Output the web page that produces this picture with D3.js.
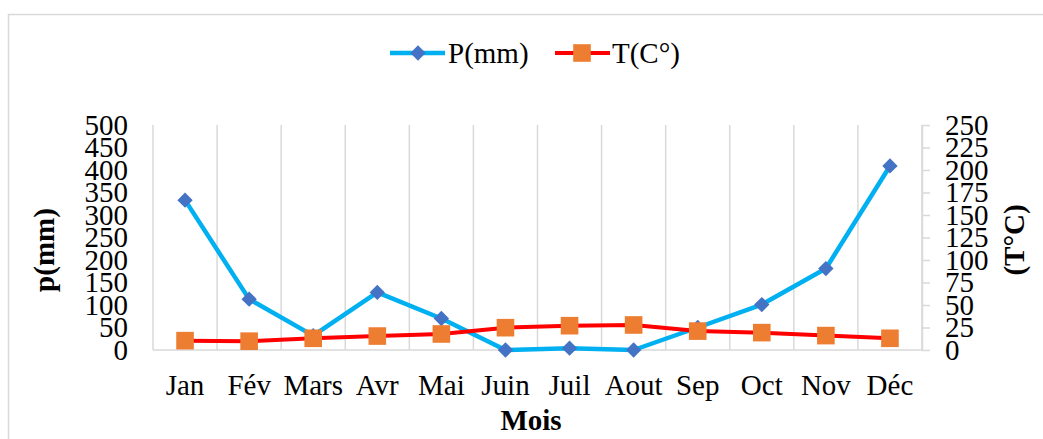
<!DOCTYPE html>
<html>
<head>
<meta charset="utf-8">
<script src="https://cdn.jsdelivr.net/npm/d3@7"></script>
<style>
  html, body { margin: 0; padding: 0; background: #fff; }
  svg { display: block; font-family: "Liberation Serif", "Times New Roman", serif; }
</style>
</head>
<body>
<svg id="chart" width="1043" height="439"></svg>
<script>
// Monthly precipitation (mm) and temperature (°C)
const months = ["Jan", "Fév", "Mars", "Avr", "Mai", "Juin", "Juil", "Aout", "Sep", "Oct", "Nov", "Déc"];
const precip = [333, 113, 32, 128, 70, 0, 4, 0, 50, 101, 181, 409];
const temp = [10.4, 9.8, 13, 15.5, 17.8, 24.8, 27, 27.8, 21, 19.3, 16, 13];
const leftTicks = [0, 50, 100, 150, 200, 250, 300, 350, 400, 450, 500];
const rightTicks = [0, 25, 50, 75, 100, 125, 150, 175, 200, 225, 250];

const svg = d3.select("#chart");
const W = 1043, H = 439;
const plot = { left: 153, right: 922, top: 125, bottom: 350 };
const fs = 29;

const gridColor = "#d9d9d9";
const textColor = "#000";
const pLine = "#00b0f0", pMark = "#4472c4";
const tLine = "#ff0000", tMark = "#ed7d31";

// outer chart frame
svg.append("rect")
  .attr("x", 8.5).attr("y", 14.5)
  .attr("width", W + 20).attr("height", H + 20)
  .attr("fill", "#fff").attr("stroke", gridColor).attr("stroke-width", 1.5);

const x = d3.scaleBand().domain(months).range([plot.left, plot.right]).paddingInner(0).paddingOuter(0);
const yL = d3.scaleLinear().domain([0, 500]).range([plot.bottom, plot.top]);
const yR = d3.scaleLinear().domain([0, 250]).range([plot.bottom, plot.top]);

// vertical category gridlines
const bounds = months.map(m => x(m)).concat([plot.right]);
svg.append("g").selectAll("line").data(bounds).join("line")
  .attr("x1", d => d).attr("x2", d => d)
  .attr("y1", plot.top).attr("y2", plot.bottom)
  .attr("stroke", gridColor).attr("stroke-width", 1.5);

// bottom axis line
svg.append("line")
  .attr("x1", plot.left).attr("x2", plot.right)
  .attr("y1", plot.bottom).attr("y2", plot.bottom)
  .attr("stroke", gridColor).attr("stroke-width", 1.5);

// right axis with outward ticks
const rAxis = svg.append("g").attr("transform", `translate(${plot.right},0)`)
  .call(d3.axisRight(yR).tickValues(rightTicks).tickSize(8).tickPadding(15).tickSizeOuter(0));
rAxis.select(".domain").attr("stroke", gridColor).attr("stroke-width", 1.5);
rAxis.selectAll(".tick line").attr("stroke", gridColor).attr("stroke-width", 1.5);
rAxis.selectAll(".tick text")
  .attr("font-size", fs).attr("fill", textColor)
  .attr("font-family", "Liberation Serif, serif");

// left axis labels (no tick marks)
const lAxis = svg.append("g").attr("transform", `translate(${plot.left},0)`)
  .call(d3.axisLeft(yL).tickValues(leftTicks).tickSize(0).tickPadding(25));
lAxis.select(".domain").remove();
lAxis.selectAll(".tick text")
  .attr("font-size", fs).attr("fill", textColor)
  .attr("font-family", "Liberation Serif, serif");

// month labels
const bAxis = svg.append("g").attr("transform", `translate(0,${plot.bottom})`)
  .call(d3.axisBottom(x).tickSize(0).tickPadding(24));
bAxis.select(".domain").remove();
bAxis.selectAll(".tick text")
  .attr("font-size", fs).attr("fill", textColor)
  .attr("font-family", "Liberation Serif, serif");

// axis titles
svg.append("text")
  .attr("transform", "translate(54,250) rotate(-90)")
  .attr("text-anchor", "middle")
  .attr("font-size", fs).attr("font-weight", "bold").attr("fill", textColor)
  .text("p(mm)");
svg.append("text")
  .attr("transform", "translate(1024,240) rotate(-90)")
  .attr("text-anchor", "middle")
  .attr("font-size", fs).attr("font-weight", "bold").attr("fill", textColor)
  .text("(T°C)");
svg.append("text")
  .attr("x", 531).attr("y", 430)
  .attr("text-anchor", "middle")
  .attr("font-size", fs).attr("font-weight", "bold").attr("fill", textColor)
  .text("Mois");

const cx = m => x(m) + x.bandwidth() / 2;
const diamond = d3.symbol().type(d3.symbolDiamond2).size(150);
const square = d3.symbol().type(d3.symbolSquare).size(310);

// precipitation series
svg.append("path").datum(precip)
  .attr("fill", "none").attr("stroke", pLine).attr("stroke-width", 4.5)
  .attr("stroke-linejoin", "round")
  .attr("d", d3.line().x((d, i) => cx(months[i])).y(d => yL(d)));
svg.append("g").selectAll("path").data(precip).join("path")
  .attr("transform", (d, i) => `translate(${cx(months[i])},${yL(d)})`)
  .attr("d", diamond).attr("fill", pMark);

// temperature series
svg.append("path").datum(temp)
  .attr("fill", "none").attr("stroke", tLine).attr("stroke-width", 4)
  .attr("stroke-linejoin", "round")
  .attr("d", d3.line().x((d, i) => cx(months[i])).y(d => yR(d)));
svg.append("g").selectAll("path").data(temp).join("path")
  .attr("transform", (d, i) => `translate(${cx(months[i])},${yR(d)})`)
  .attr("d", square).attr("fill", tMark);

// legend
const legend = svg.append("g").attr("font-size", fs).attr("fill", textColor);
const legY = 53;
legend.append("line").attr("x1", 390).attr("x2", 445).attr("y1", legY).attr("y2", legY)
  .attr("stroke", pLine).attr("stroke-width", 4.5);
legend.append("path").attr("transform", `translate(418,${legY})`).attr("d", diamond).attr("fill", pMark);
legend.append("text").attr("x", 448).attr("y", legY + 10).text("P(mm)");
legend.append("line").attr("x1", 555).attr("x2", 610).attr("y1", legY).attr("y2", legY)
  .attr("stroke", tLine).attr("stroke-width", 4);
legend.append("path").attr("transform", `translate(582,${legY})`).attr("d", square).attr("fill", tMark);
legend.append("text").attr("x", 612).attr("y", legY + 10).text("T(C°)");
</script>
</body>
</html>
